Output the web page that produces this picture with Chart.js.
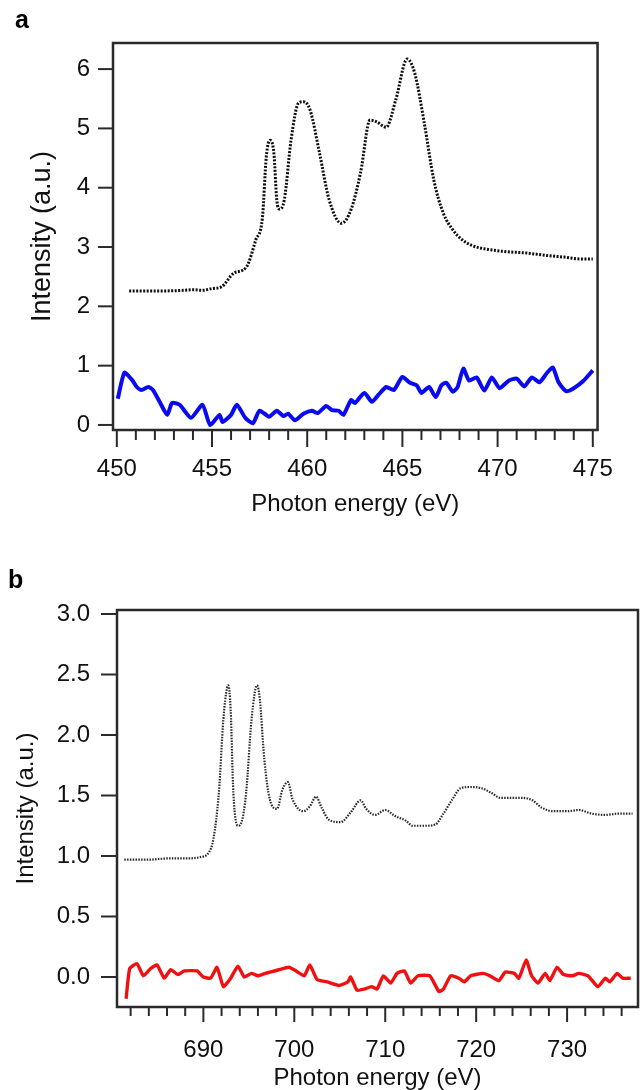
<!DOCTYPE html>
<html>
<head>
<meta charset="utf-8">
<script src="https://cdn.jsdelivr.net/npm/chart.js@4/dist/chart.umd.min.js"></script>
<style>
  html, body { margin: 0; padding: 0; background: #fff; }
  #wrap { position: relative; width: 640px; height: 1090px; }
  canvas { position: absolute; left: 0; }
</style>
</head>
<body>
<div id="wrap">
  <canvas id="chartA" width="640" height="545" style="top:0"></canvas>
  <canvas id="chartB" width="640" height="545" style="top:545px"></canvas>
</div>
<script>
// ---- Panel a: Ti L-edge region ----
const aRefEnergy = [450.65, 451.5, 452.5, 453.5, 454.0, 454.5, 455.0, 455.5, 456.15, 456.8, 457.3, 457.65,
  457.85, 458.05, 458.25, 458.4, 458.55, 458.8, 459.15, 459.55, 459.8, 460.15, 460.65, 461.15, 461.8,
  462.3, 462.8, 463.3, 463.65, 464.15, 464.65, 465.25, 465.65, 466.15, 466.65, 467.15, 467.65, 468.15,
  468.7, 469.5, 470.5, 471.5, 472.5, 473.5, 474.3, 475.0];
const aRefIntensity = [2.26, 2.26, 2.26, 2.27, 2.28, 2.27, 2.30, 2.33, 2.56, 2.66, 3.12, 3.5,
  4.52, 4.8, 4.58, 3.8, 3.64, 3.8, 4.8, 5.43, 5.45, 5.31, 4.58, 3.8, 3.4,
  3.63, 4.25, 5.14, 5.11, 5.02, 5.48, 6.17, 5.93, 5.09, 4.13, 3.57, 3.29, 3.12,
  3.02, 2.96, 2.92, 2.9, 2.86, 2.83, 2.8, 2.8];

const aDiffEnergy = [450.05, 450.4, 450.8, 451.05, 451.3, 451.65, 451.9, 452.25, 452.65, 452.9, 453.3,
  453.9, 454.5, 454.9, 455.4, 455.55, 456.0, 456.3, 456.75, 457.15, 457.5, 458.0, 458.4, 458.75,
  459.0, 459.35, 459.8, 460.25, 460.55, 461.0, 461.3, 461.65, 461.9, 462.3, 462.5, 463.0, 463.4,
  463.75, 464.15, 464.55, 465.0, 465.4, 465.75, 466.0, 466.4, 466.75, 467.05, 467.3, 467.65, 467.9,
  468.2, 468.5, 468.9, 469.3, 469.7, 470.1, 470.6, 471.0, 471.4, 471.8, 472.2, 472.6, 472.9, 473.2,
  473.6, 474.0, 474.5, 475.0];
const aDiffIntensity = [0.44, 0.88, 0.76, 0.64, 0.59, 0.64, 0.59, 0.39, 0.17, 0.37, 0.34,
  0.12, 0.34, 0.0, 0.17, 0.05, 0.17, 0.34, 0.12, 0.03, 0.24, 0.14, 0.24, 0.15,
  0.19, 0.08, 0.19, 0.24, 0.2, 0.32, 0.25, 0.24, 0.17, 0.42, 0.37, 0.54, 0.39,
  0.51, 0.64, 0.59, 0.81, 0.71, 0.67, 0.54, 0.64, 0.47, 0.67, 0.71, 0.56, 0.64,
  0.95, 0.75, 0.8, 0.58, 0.8, 0.62, 0.75, 0.78, 0.65, 0.8, 0.72, 0.88, 0.97, 0.72,
  0.57, 0.62, 0.74, 0.92];

const aXLabels = [450, 455, 460, 465, 470, 475];
const aXMinor = [451, 452, 453, 454, 456, 457, 458, 459, 461, 462, 463, 464, 466, 467, 468, 469, 471, 472, 473, 474];
const aYLabels = [0, 1, 2, 3, 4, 5, 6];

// ---- Panel b: Fe L-edge region ----
const bRefEnergy = [681.3, 684.0, 686.2, 688.0, 689.6, 690.6, 691.1, 691.7, 692.2, 692.6, 692.75, 693.0,
  693.3, 693.8, 694.2, 694.7, 695.3, 695.9, 696.2, 696.7, 697.3, 698.1, 698.7, 699.3, 699.8, 701.0,
  701.7, 702.4, 703.0, 703.8, 705.1, 706.2, 707.3, 707.9, 708.9, 710.0, 711.1, 712.3, 713.0, 714.5,
  715.5, 716.4, 717.4, 718.3, 719.3, 720.6, 721.7, 722.7, 724.0, 725.1, 726.2, 727.2, 728.5, 730.0,
  731.3, 732.7, 734.2, 735.7, 737.2];
const bRefIntensity = [0.97, 0.97, 0.98, 0.98, 0.99, 1.03, 1.14, 1.52, 2.13, 2.39, 2.41, 2.21,
  1.52, 1.25, 1.28, 1.52, 2.13, 2.41, 2.30, 1.80, 1.47, 1.39, 1.55, 1.61, 1.47, 1.37,
  1.41, 1.49, 1.40, 1.30, 1.28, 1.36, 1.46, 1.39, 1.34, 1.38, 1.33, 1.29, 1.25, 1.25,
  1.26, 1.35, 1.47, 1.56, 1.57, 1.56, 1.52, 1.48, 1.48, 1.48, 1.46, 1.40, 1.37, 1.37,
  1.38, 1.35, 1.34, 1.35, 1.35];

const bDiffEnergy = [681.5, 681.9, 682.7, 683.4, 684.2, 684.9, 685.7, 686.4, 687.2, 687.9, 689.3, 690.0,
  690.8, 691.5, 692.2, 693.0, 693.8, 694.5, 695.3, 696.0, 696.8, 698.3, 699.4, 700.2, 701.1, 701.7,
  702.5, 703.6, 704.9, 705.9, 706.2, 706.9, 707.7, 708.5, 709.1, 709.8, 710.6, 711.3, 712.1, 712.8,
  713.6, 714.9, 715.9, 716.4, 717.2, 718.1, 718.7, 719.4, 720.8, 721.5, 722.5, 723.2, 724.2, 724.7,
  725.5, 726.1, 726.8, 727.6, 728.1, 728.9, 729.6, 730.6, 731.3, 732.3, 733.4, 734.2, 734.7, 735.5,
  736.1, 737.0];
const bDiffIntensity = [-0.18, 0.07, 0.11, 0.01, 0.07, 0.10, -0.01, 0.06, 0.02, 0.05, 0.05, 0.0,
  -0.01, 0.08, -0.08, -0.01, 0.09, 0.0, 0.03, 0.01, 0.03, 0.06, 0.08, 0.05, 0.01, 0.10,
  -0.02, -0.04, -0.07, -0.04, 0.0, -0.11, -0.10, -0.08, -0.10, 0.01, -0.05, 0.03, 0.05, -0.05,
  0.01, 0.01, -0.12, -0.10, 0.01, -0.01, -0.04, 0.01, 0.03, 0.01, -0.03, 0.04, 0.03, -0.01,
  0.14, 0.01, -0.05, 0.03, -0.03, 0.08, 0.02, 0.01, 0.03, 0.01, -0.08, -0.01, -0.04, 0.03,
  -0.01, -0.01];

const bXLabels = [690, 700, 710, 720, 730];
const bXMinor = [682, 684, 686, 688, 692, 694, 696, 698, 702, 704, 706, 708, 712, 714, 716, 718,
  722, 724, 726, 728, 732, 734, 736];
const bYLabels = [0, 0.5, 1.0, 1.5, 2.0, 2.5, 3.0];

const FONT = "'Liberation Sans', Arial, sans-serif";
const pairs = (xs, ys) => xs.map((x, i) => ({ x, y: ys[i] }));

// Closed frame plus outward tick marks, placed through the chart's scales
const frameTicks = {
  id: 'frameTicks',
  afterDraw(chart, args, o) {
    const { ctx, chartArea: { left, right, top, bottom }, scales: { x, y } } = chart;
    ctx.save();
    ctx.strokeStyle = '#2a2a2a';
    ctx.lineCap = 'butt';
    ctx.lineWidth = 2;
    const seg = (x1, y1, x2, y2) => { ctx.beginPath(); ctx.moveTo(x1, y1); ctx.lineTo(x2, y2); ctx.stroke(); };
    o.xMajor.forEach(v => { const p = x.getPixelForValue(v); seg(p, bottom, p, bottom + o.xMajorLen); });
    o.xMinor.forEach(v => { const p = x.getPixelForValue(v); seg(p, bottom, p, bottom + o.xMinorLen); });
    o.yMajor.forEach(v => { const p = y.getPixelForValue(v); seg(left - o.yLen, p, left, p); });
    ctx.lineWidth = 2.5;
    ctx.strokeRect(left, top, right - left, bottom - top);
    if (o.letter) {
      ctx.fillStyle = '#000';
      ctx.font = 'bold 25px ' + FONT;
      ctx.textBaseline = 'alphabetic';
      ctx.fillText(o.letter.text, o.letter.x, o.letter.y);
    }
    ctx.restore();
  }
};

function makeChart(id, cfg) {
  return new Chart(document.getElementById(id), {
    type: 'line',
    data: { datasets: cfg.datasets },
    options: {
      responsive: false,
      animation: false,
      devicePixelRatio: 1,
      layout: { padding: cfg.padding },
      plugins: { legend: { display: false }, tooltip: { enabled: false }, frameTicks: cfg.frame },
      elements: { point: { radius: 0 } },
      scales: {
        x: {
          type: 'linear', min: cfg.xMin, max: cfg.xMax,
          afterBuildTicks: s => { s.ticks = cfg.xLabels.map(v => ({ value: v })); },
          afterFit: s => { s.height = cfg.xHeight; },
          grid: { display: false, drawTicks: false },
          border: { display: false },
          ticks: { color: '#111', font: { family: FONT, size: 24, lineHeight: 1 }, padding: cfg.xTickPad,
                   maxRotation: 0, autoSkip: false, callback: v => String(v) },
          title: { display: true, text: 'Photon energy (eV)', color: '#111',
                   font: { family: FONT, size: 24, lineHeight: 1 }, padding: { top: 0, bottom: cfg.xTitlePad } }
        },
        y: {
          type: 'linear', min: cfg.yMin, max: cfg.yMax,
          afterBuildTicks: s => { s.ticks = cfg.yLabels.map(v => ({ value: v })); },
          afterFit: s => { s.width = cfg.yWidth; },
          grid: { display: false, drawTicks: false },
          border: { display: false },
          ticks: { color: '#111', font: { family: FONT, size: 24, lineHeight: 1 }, padding: cfg.yTickPad,
                   autoSkip: false, callback: cfg.yFmt },
          title: { display: true, text: 'Intensity (a.u.)', color: '#111',
                   font: { family: FONT, size: cfg.yTitleSize, lineHeight: 1 }, padding: { top: cfg.yTitlePad, bottom: 0 } }
        }
      }
    },
    plugins: [frameTicks]
  });
}

makeChart('chartA', {
  datasets: [
    { data: pairs(aRefEnergy, aRefIntensity), borderColor: '#0d0d0d', borderWidth: 3, borderDash: [2, 1.5],
      cubicInterpolationMode: 'monotone', fill: false },
    { data: pairs(aDiffEnergy, aDiffIntensity), borderColor: '#0a0af0', borderWidth: 4, tension: 0.2,
      borderJoinStyle: 'round', fill: false }
  ],
  padding: { left: 0, right: 18, top: 43, bottom: 0 },
  xMin: 449.8, xMax: 475.25, yMin: -0.085, yMax: 6.44,
  xLabels: aXLabels, yLabels: aYLabels, yFmt: v => String(v),
  xHeight: 115, yWidth: 113, xTickPad: 27, xTitlePad: 29, yTickPad: 23, yTitlePad: 29, yTitleSize: 27,
  frame: { xMajor: aXLabels, xMinor: aXMinor, yMajor: aYLabels, xMajorLen: 17, xMinorLen: 10, yLen: 15,
           letter: { text: 'a', x: 15, y: 28 } }
});

makeChart('chartB', {
  datasets: [
    { data: pairs(bRefEnergy, bRefIntensity), borderColor: '#2a2a2a', borderWidth: 2.2, borderDash: [1.5, 1.3],
      cubicInterpolationMode: 'monotone', fill: false },
    { data: pairs(bDiffEnergy, bDiffIntensity), borderColor: '#f01010', borderWidth: 3.4, tension: 0.15,
      borderJoinStyle: 'round', fill: false }
  ],
  padding: { left: 0, right: 2, top: 65, bottom: 0 },
  xMin: 680.5, xMax: 737.8, yMin: -0.248, yMax: 3.033,
  xLabels: bXLabels, yLabels: bYLabels, yFmt: v => v.toFixed(1),
  xHeight: 83, yWidth: 117, xTickPad: 31, xTitlePad: 0, yTickPad: 27, yTitlePad: 14, yTitleSize: 24,
  frame: { xMajor: bXLabels, xMinor: bXMinor, yMajor: bYLabels, xMajorLen: 15, xMinorLen: 9, yLen: 16,
           letter: { text: 'b', x: 8, y: 43 } }
});
</script>
</body>
</html>
